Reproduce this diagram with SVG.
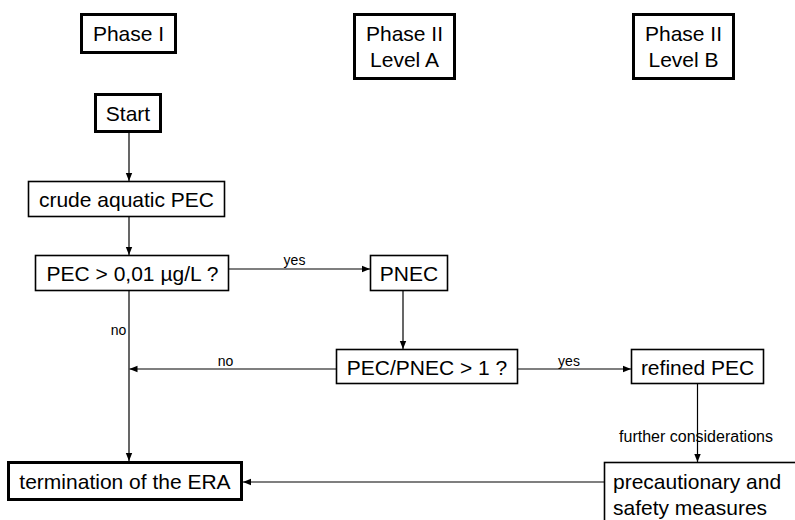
<svg xmlns="http://www.w3.org/2000/svg" width="795" height="520" viewBox="0 0 795 520">
<style>
.thick{fill:#fff;stroke:#000;stroke-width:3}
.thin{fill:#fff;stroke:#000;stroke-width:1.6}
.t{font-family:"Liberation Sans",Arial,sans-serif;font-size:21px;fill:#000;text-anchor:middle}
.s{font-family:"Liberation Sans",Arial,sans-serif;font-size:14px;fill:#000;text-anchor:middle}
.c{stroke:#000;stroke-width:1.2;fill:none;marker-end:url(#ah)}
</style>
<defs>
<marker id="ah" markerUnits="userSpaceOnUse" markerWidth="8" markerHeight="8" refX="8" refY="4" orient="auto">
<path d="M0,0.8 L8,4 L0,7.2 z" fill="#000"/>
</marker>
</defs>
<rect width="795" height="520" fill="#fff"/>
<g id="phase1"><rect class="thick" x="81.5" y="14.5" width="94" height="38"/><text class="t" x="128.5" y="41">Phase I</text></g>
<g id="phase2a"><rect class="thick" x="354.5" y="14.5" width="100" height="64"/><text class="t" x="404.5" y="41">Phase II</text><text class="t" x="404.5" y="67">Level A</text></g>
<g id="phase2b"><rect class="thick" x="633.5" y="14.5" width="100" height="64"/><text class="t" x="683.5" y="41">Phase II</text><text class="t" x="683.5" y="67">Level B</text></g>
<g id="start"><rect class="thick" x="95.5" y="94.5" width="65" height="37"/><text class="t" x="128" y="121">Start</text></g>
<g id="crude"><rect class="thin" x="28.5" y="181.5" width="196" height="35"/><text class="t" x="126.5" y="207">crude aquatic PEC</text></g>
<g id="pec001"><rect class="thin" x="35.5" y="255.5" width="193" height="35"/><text class="t" x="132.5" y="281">PEC &gt; 0,01 µg/L ?</text></g>
<g id="pnec"><rect class="thin" x="370.5" y="255.5" width="77" height="35"/><text class="t" x="409" y="281">PNEC</text></g>
<g id="ratio"><rect class="thin" x="336.5" y="349.5" width="181" height="34"/><text class="t" x="427" y="375">PEC/PNEC &gt; 1 ?</text></g>
<g id="refined"><rect class="thin" x="631.5" y="349.5" width="132" height="34"/><text class="t" x="697.5" y="375">refined PEC</text></g>
<g id="termination"><rect class="thick" x="8.5" y="462.5" width="233" height="37"/><text class="t" x="125" y="489">termination of the ERA</text></g>
<g id="precaution"><rect class="thin" x="604.5" y="462.5" width="220" height="80"/><text class="t" x="613" y="489" style="text-anchor:start">precautionary and</text><text class="t" x="613" y="515" style="text-anchor:start">safety measures</text></g>
<g id="labels">
<text class="s" x="294.5" y="265">yes</text>
<text class="s" x="118.5" y="335">no</text>
<text class="s" x="225.5" y="366">no</text>
<text class="s" x="569" y="366">yes</text>
<text class="s" x="696" y="442" style="font-size:16px">further considerations</text>
</g>
<g id="connectors">
<line class="c" x1="129" y1="132" x2="129" y2="181"/>
<line class="c" x1="129" y1="217" x2="129" y2="255"/>
<line class="c" x1="229" y1="269" x2="370" y2="269"/>
<line class="c" x1="403" y1="291" x2="403" y2="349"/>
<line style="stroke:#000;stroke-width:1.2" x1="129" y1="291" x2="129" y2="369"/>
<line class="c" x1="129" y1="369" x2="129" y2="461"/>
<line class="c" x1="336" y1="369" x2="129.5" y2="369"/>
<line class="c" x1="518" y1="369" x2="631" y2="369"/>
<line class="c" x1="697.5" y1="384" x2="697.5" y2="462"/>
<line class="c" x1="604" y1="482" x2="243" y2="482"/>
</g>
</svg>
